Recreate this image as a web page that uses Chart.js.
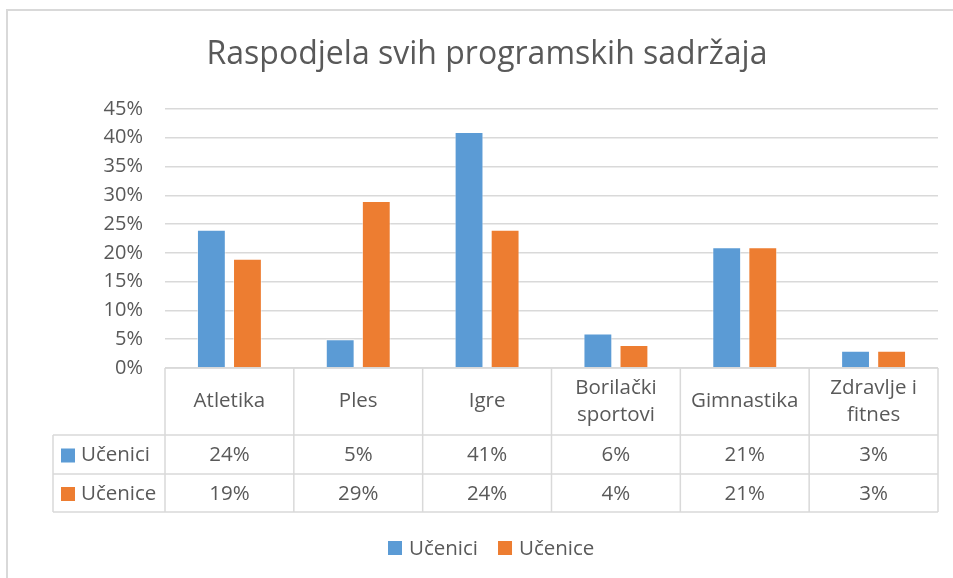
<!DOCTYPE html>
<html>
<head>
<meta charset="utf-8">
<script src="https://cdn.jsdelivr.net/npm/chart.js@4/dist/chart.umd.min.js"></script>
<style>
  html, body { margin: 0; padding: 0; background: #ffffff; }
  #wrap { width: 953px; height: 578px; position: relative; }
</style>
</head>
<body>
<div id="wrap"><canvas id="c" width="953" height="578"></canvas></div>
<script>
// ---- data ----
const titleText = 'Raspodjela svih programskih sadržaja';
const categories = [['Atletika'], ['Ples'], ['Igre'], ['Borilački', 'sportovi'], ['Gimnastika'], ['Zdravlje i', 'fitnes']];
const seriesNames = ['Učenici', 'Učenice'];
const ucenici = [24, 5, 41, 6, 21, 3];
const ucenice = [19, 29, 24, 4, 21, 3];
const yTicks = [0, 5, 10, 15, 20, 25, 30, 35, 40, 45];

// ---- styles ----
const BLUE = '#5B9BD5';
const ORANGE = '#ED7D31';
const TEXT = '#595959';
const GRID = '#D9D9D9';
const FONT = "'Open Sans', 'DejaVu Sans', sans-serif";

const tablePlugin = {
  id: 'tablePlugin',
  afterDraw(chart) {
    const ctx = chart.ctx;
    const area = chart.chartArea;
    const xs = chart.scales.x;
    const n = categories.length;
    const colW = (area.right - area.left) / n;
    const top = area.bottom;
    const headerH = 67, rowH = [39, 38];
    const labelLeft = 53;
    const y1 = top + headerH, y2 = y1 + rowH[0], y3 = y2 + rowH[1];

    ctx.save();
    // outer chart frame (partially visible)
    ctx.strokeStyle = GRID;
    ctx.lineWidth = 2;
    ctx.beginPath();
    ctx.moveTo(7, 578); ctx.lineTo(7, 10); ctx.lineTo(953, 10);
    ctx.stroke();

    // table lines
    ctx.lineWidth = 1.5;
    ctx.strokeStyle = GRID;
    ctx.beginPath();
    ctx.moveTo(area.left, top); ctx.lineTo(area.right, top);
    ctx.moveTo(labelLeft, y1); ctx.lineTo(area.right, y1);
    ctx.moveTo(labelLeft, y2); ctx.lineTo(area.right, y2);
    ctx.moveTo(labelLeft, y3); ctx.lineTo(area.right, y3);
    ctx.moveTo(labelLeft, y1); ctx.lineTo(labelLeft, y3);
    for (let i = 0; i <= n; i++) {
      const x = area.left + i * colW;
      ctx.moveTo(x, top); ctx.lineTo(x, y3);
    }
    ctx.stroke();

    // header text
    ctx.fillStyle = TEXT;
    ctx.font = '20.5px ' + FONT;
    ctx.textAlign = 'center';
    ctx.textBaseline = 'middle';
    const lineH = 27;
    categories.forEach((lines, i) => {
      const cx = xs.getPixelForValue(i);
      const cy = top + headerH / 2;
      const start = cy - (lines.length - 1) * lineH / 2;
      lines.forEach((t, k) => ctx.fillText(t, cx, start + k * lineH));
    });
    // values
    const rows = [ucenici, ucenice];
    const rowY = [(y1 + y2) / 2, (y2 + y3) / 2];
    rows.forEach((vals, r) => {
      vals.forEach((v, i) => {
        ctx.fillText(v + '%', xs.getPixelForValue(i), rowY[r] + 1);
      });
    });
    // row labels with keys
    const colors = [BLUE, ORANGE];
    ctx.textAlign = 'left';
    seriesNames.forEach((name, r) => {
      ctx.fillStyle = colors[r];
      ctx.fillRect(61, rowY[r] - 6, 14, 14);
      ctx.fillStyle = TEXT;
      ctx.fillText(name, 81, rowY[r] + 1);
    });

    // title
    ctx.font = '32px ' + FONT;
    ctx.textAlign = 'center';
    ctx.fillStyle = TEXT;
    ctx.fillText(titleText, 487, 55);

    // legend
    ctx.font = '20.5px ' + FONT;
    ctx.textAlign = 'left';
    let lx = 388;
    seriesNames.forEach((name, r) => {
      ctx.fillStyle = colors[r];
      ctx.fillRect(lx, 541, 14, 14);
      ctx.fillStyle = TEXT;
      ctx.fillText(name, lx + 21, 549);
      lx += 21 + ctx.measureText(name).width + 20;
    });
    ctx.restore();
  }
};

new Chart(document.getElementById('c'), {
  type: 'bar',
  data: {
    labels: categories.map(l => l.join(' ')),
    datasets: [
      { label: seriesNames[0], data: ucenici, backgroundColor: BLUE, borderColor: 'rgba(255,255,255,0.5)', borderWidth: 1, categoryPercentage: 0.56, barPercentage: 0.8 },
      { label: seriesNames[1], data: ucenice, backgroundColor: ORANGE, borderColor: 'rgba(255,255,255,0.5)', borderWidth: 1, categoryPercentage: 0.56, barPercentage: 0.8 }
    ]
  },
  options: {
    responsive: false,
    animation: false,
    layout: { padding: { left: 0, right: 15, top: 109, bottom: 66 } },
    plugins: {
      legend: { display: false },
      title: { display: false },
      tooltip: { enabled: false }
    },
    scales: {
      x: {
        ticks: { display: false },
        grid: { display: false },
        border: { display: false },
        afterFit(scale) { scale.height = 144; }
      },
      y: {
        min: 0,
        max: 45,
        afterBuildTicks(scale) { scale.ticks = yTicks.map(v => ({ value: v })); },
        ticks: {
          color: TEXT,
          font: { family: FONT, size: 20 },
          padding: 22,
          callback: v => v + '%'
        },
        grid: { color: GRID, lineWidth: 1.5, drawTicks: false },
        border: { display: false },
        afterFit(scale) { scale.width = 165; }
      }
    }
  },
  plugins: [tablePlugin]
});
</script>
</body>
</html>
